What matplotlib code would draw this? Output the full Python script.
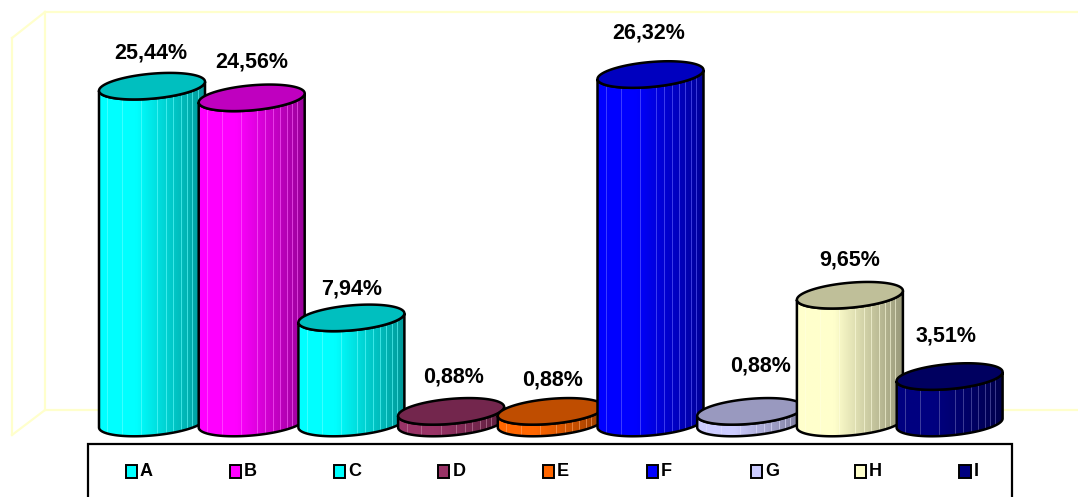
import matplotlib.pyplot as plt
import matplotlib.patches as mpatches
import numpy as np
from matplotlib.colors import to_rgb

plt.rcParams['font.family'] = ['Liberation Sans', 'DejaVu Sans']

categories = ['A', 'B', 'C', 'D', 'E', 'F', 'G', 'H', 'I']
values = [25.44, 24.56, 7.94, 0.88, 0.88, 26.32, 0.88, 9.65, 3.51]
colors = ['#00FFFF', '#FF00FF', '#00FFFF', '#993366', '#FF6600',
          '#0000FF', '#CCCCFF', '#FFFFCC', '#000080']
labels = [('%.2f' % v).replace('.', ',') + '%' for v in values]

# label nudges in pixels (dx, dy above the top of each cylinder)
label_dx = [-1, 0, 0, 2, 2, -2, 10, 0, -4]
label_dy = [33, 36, 29, 34, 31, 42, 45, 35, 41]

W, H = 1078, 497
fig = plt.figure(figsize=(W / 100, H / 100), dpi=100)
ax = fig.add_axes([0, 0, 1, 1])
ax.axis('off')

x0_px, step_px = 152, 99.7
base_px, scale_px = 423, 13.24


def px(x, y):
    return (x - x0_px) / step_px, (base_px - y) / scale_px


hw = 53 / step_px
eb = 12.5 / scale_px
ek = 4.5 / scale_px


def ellipse(cx, cy, t):
    return cx + hw * np.cos(t), cy + eb * np.sin(t) + ek * np.cos(t)


# faint 3d walls
wall = '#FFFFCC'
for (a, b) in [((45, 12), (1078, 12)), ((12, 38), (45, 12)), ((12, 38), (12, 435)),
               ((45, 12), (45, 410)), ((45, 410), (1078, 410)), ((12, 435), (45, 410))]:
    p, q = px(*a), px(*b)
    ax.plot([p[0], q[0]], [p[1], q[1]], color=wall, lw=1.6, zorder=1)

u = np.linspace(0, 1, 80)
shade = np.where(u < 0.35, 1.0, 1.0 - 0.4 * (u - 0.35) / 0.65)
stripes = [0.08, 0.22, 0.4, 0.55, 0.63, 0.7, 0.77, 0.83, 0.88, 0.93]

for i, (v, c) in enumerate(zip(values, colors)):
    z = 10 + 4 * i
    rgb = np.array(to_rgb(c))
    t = np.linspace(np.pi, 2 * np.pi, 80)
    xt, yt = ellipse(i, v, t)
    xb, yb = ellipse(i, 0, t[::-1])
    body = mpatches.Polygon(np.column_stack([np.r_[xt, xb], np.r_[yt, yb]]),
                            closed=True, facecolor='none', edgecolor='black',
                            lw=1.8, zorder=z + 2)
    ax.add_patch(body)
    grad = (rgb[None, :] * shade[:, None])[None, :, :]
    im = ax.imshow(grad, extent=(i - hw, i + hw, -eb - ek, v + eb + ek),
                   aspect='auto', interpolation='bilinear', zorder=z)
    im.set_clip_path(body)
    light = rgb + (1 - rgb) * 0.4
    sl = ax.vlines([i - hw + 2 * hw * s for s in stripes], -eb - ek, v + eb + ek,
                   colors=[light], lw=0.6, alpha=0.7, zorder=z + 1)
    sl.set_clip_path(body)
    tt = np.linspace(0, 2 * np.pi, 120)
    ex, ey = ellipse(i, v, tt)
    ax.add_patch(mpatches.Polygon(np.column_stack([ex, ey]), closed=True,
                                  facecolor=rgb * 0.75, edgecolor='black',
                                  lw=1.8, zorder=z + 3))
    ax.text(i + label_dx[i] / step_px, v + label_dy[i] / scale_px, labels[i],
            ha='center', va='center', fontsize=15.5, fontweight='bold', zorder=60)

# legend box
lx0, ly0 = px(88, 500)
lx1, ly1 = px(1012, 444)
ax.add_patch(mpatches.Rectangle((lx0, ly0), lx1 - lx0, ly1 - ly0, facecolor='white',
                                edgecolor='black', lw=1.6, zorder=70))
for i, (cat, c) in enumerate(zip(categories, colors)):
    mx = 131 + 104.25 * i
    mxa, mya = px(mx - 5.5, 477.5)
    mxb, myb = px(mx + 5.5, 464.5)
    ax.add_patch(mpatches.Rectangle((mxa, mya), mxb - mxa, myb - mya, facecolor=c,
                                    edgecolor='black', lw=1.4, zorder=71))
    tx, ty = px(mx + 8.5, 471)
    ax.text(tx, ty, cat, ha='left', va='center', fontsize=13, fontweight='bold', zorder=72)

ax.set_xlim((0 - x0_px) / step_px, (W - x0_px) / step_px)
ax.set_ylim((base_px - H) / scale_px, base_px / scale_px)

fig.savefig('out.png', dpi=100)
